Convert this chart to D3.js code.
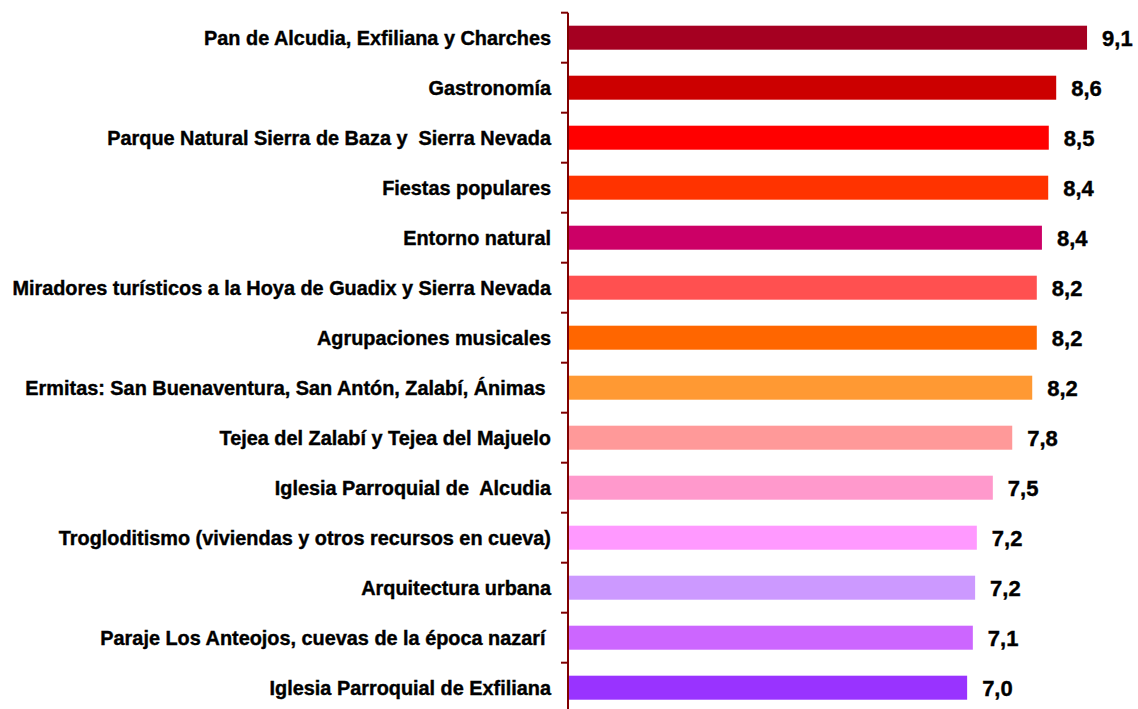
<!DOCTYPE html>
<meta charset="utf-8">
<script src="https://d3js.org/d3.v7.min.js"></script>
<html>
<style>
body { margin: 0; background: #fff; }
svg { display: block; font-family: "Liberation Sans", Arial, sans-serif; font-weight: bold; }
text { white-space: pre; }
</style>
<body>
<svg id="chart" width="1138" height="709"></svg>
<script>

// categories, top to bottom
var categories = [
  "Pan de Alcudia, Exfiliana y Charches",
  "Gastronomía",
  "Parque Natural Sierra de Baza y  Sierra Nevada",
  "Fiestas populares",
  "Entorno natural",
  "Miradores turísticos a la Hoya de Guadix y Sierra Nevada",
  "Agrupaciones musicales",
  "Ermitas: San Buenaventura, San Antón, Zalabí, Ánimas ",
  "Tejea del Zalabí y Tejea del Majuelo",
  "Iglesia Parroquial de  Alcudia",
  "Trogloditismo (viviendas y otros recursos en cueva)",
  "Arquitectura urbana",
  "Paraje Los Anteojos, cuevas de la época nazarí ",
  "Iglesia Parroquial de Exfiliana"
];

// bar values
var values = [9.09, 8.55, 8.42, 8.41, 8.30, 8.21, 8.21, 8.13, 7.78, 7.44, 7.16, 7.13, 7.09, 6.99];

// value labels as printed
var valueLabels = ["9,1", "8,6", "8,5", "8,4", "8,4", "8,2", "8,2", "8,2", "7,8", "7,5", "7,2", "7,2", "7,1", "7,0"];

var colors = ["#A50021", "#CC0000", "#FF0000", "#FF3300", "#CC0066", "#FF5050", "#FF6600",
              "#FF9933", "#FF9999", "#FF99CC", "#FF99FF", "#CC99FF", "#CC66FF", "#9933FF"];

var svg = d3.select("#chart");

var x = d3.scaleLinear()
  .domain([0, 10])
  .range([568, 1139]);

var y = d3.scaleBand()
  .domain(categories)
  .range([12.7, 712.7])
  .paddingInner(0.52)
  .paddingOuter(0.26);

// bars
svg.append("g")
  .selectAll("rect")
  .data(categories)
  .enter()
  .append("rect")
    .attr("x", x(0))
    .attr("y", function(d) { return y(d); })
    .attr("width", function(d, i) { return x(values[i]) - x(0); })
    .attr("height", y.bandwidth())
    .attr("fill", function(d, i) { return colors[i]; });

// value labels
svg.append("g")
  .selectAll("text")
  .data(categories)
  .enter()
  .append("text")
    .attr("x", function(d, i) { return x(values[i]) + 15; })
    .attr("y", function(d) { return y(d) + y.bandwidth() / 2 + 8; })
    .style("font-size", "22px")
    .attr("stroke", "#000")
    .attr("stroke-width", 0.4)
    .text(function(d, i) { return valueLabels[i]; });

// category labels (condensed look)
var labelG = svg.append("g");
var labels = labelG.selectAll("text")
  .data(categories)
  .enter()
  .append("text")
    .attr("text-anchor", "end")
    .style("font-size", "20px")
    .attr("stroke", "#000")
    .attr("stroke-width", 0.4)
    .text(function(d) { return d; });

var ref = labels.filter(function(d, i) { return i == 5; }).node().getComputedTextLength();
var squeeze = 539 / ref;
labels.attr("transform", function(d) {
  return "translate(551," + (y(d) + y.bandwidth() / 2 + 7) + ") scale(" + squeeze + ",1)";
});

// axis line and ticks at band boundaries
var step = y.step();
var y0 = y.range()[0];
svg.append("line")
  .attr("x1", 568).attr("x2", 568)
  .attr("y1", y0).attr("y2", 709)
  .attr("stroke", "#800000")
  .attr("stroke-width", 2);

svg.append("g")
  .selectAll("line")
  .data(d3.range(categories.length + 1))
  .enter()
  .append("line")
    .attr("x1", 561).attr("x2", 568)
    .attr("y1", function(i) { return y0 + i * step; })
    .attr("y2", function(i) { return y0 + i * step; })
    .attr("stroke", "#800000")
    .attr("stroke-width", 2);

</script>
</body>
</html>
